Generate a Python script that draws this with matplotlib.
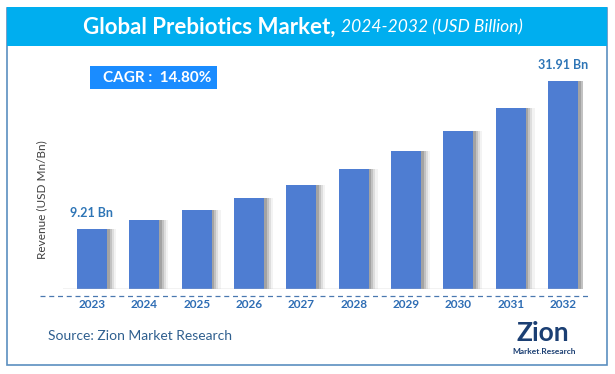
import matplotlib
matplotlib.use("Agg")
import matplotlib.pyplot as plt
from matplotlib.patches import Rectangle

years = ["2023", "2024", "2025", "2026", "2027", "2028", "2029", "2030", "2031", "2032"]
revenue = [9.21, 10.57, 12.14, 13.94, 16.00, 18.37, 21.09, 24.21, 27.80, 31.91]
first_label = "9.21 Bn"
last_label = "31.91 Bn"
cagr_text = "CAGR :  14.80%"

W, H = 615, 374
plt.rcParams["font.family"] = ["Lato", "DejaVu Sans"]

fig = plt.figure(figsize=(W / 100, H / 100), dpi=100)
fig.patch.set_facecolor("white")


def fx(px):
    return px / W


def fy(py):
    return 1 - py / H


# outer frame and title band
fig.patches.append(Rectangle((fx(7), fy(365)), fx(600), (365 - 8) / H, transform=fig.transFigure,
                             fill=False, edgecolor="#5b8fc0", lw=1.2))
fig.patches.append(Rectangle((fx(7), fy(46)), fx(600), (46 - 7) / H, transform=fig.transFigure,
                             facecolor="#00aeef", edgecolor="none"))
fig.text(fx(341), fy(27), "Global Prebiotics Market, ", color="white", fontsize=16,
         fontweight="bold", ha="right", va="center")
fig.text(fx(341), fy(27), "2024-2032 (USD Billion)", color="white", fontsize=12.5,
         style="italic", ha="left", va="center")

# main axes
x0, x1, ytop, ybase = 63, 583, 60, 289
ax = fig.add_axes([fx(x0), fy(ybase), fx(x1 - x0), (ybase - ytop) / H])
step = (563 - 92) / 9
ax.set_xlim(-(92 - x0) / step, 9 + (x1 - 563) / step)
ax.set_ylim(0, (ybase - ytop) / 6.52)
ax.axis("off")

xs = list(range(len(years)))
# soft shadow to the right of bars
for k, a in enumerate([0.28, 0.2, 0.13, 0.07]):
    ax.bar([x + 0.05 + 0.04 * k for x in xs], revenue, width=0.573, color="#555555",
           alpha=a, zorder=1, linewidth=0)
ax.bar(xs, revenue, width=0.573, color="#4e7dd2", zorder=3, linewidth=0)
ax.axhline(0, color="#bdbdbd", lw=1, zorder=4)

ax.annotate(first_label, (xs[0], revenue[0]), xytext=(0, 7), textcoords="offset points",
            ha="center", va="bottom", color="#2e75b6", fontsize=9, fontweight="bold")
ax.annotate(last_label, (xs[-1], revenue[-1]), xytext=(0, 7), textcoords="offset points",
            ha="center", va="bottom", color="#2e75b6", fontsize=9, fontweight="bold")

# dashed separator line and year labels
fig.add_artist(plt.Line2D([fx(40), fx(590)], [fy(296), fy(296)], color="#4a78b0",
                          lw=0.9, ls=(0, (4, 3))))
for i, y in enumerate(years):
    px = 92 + i * step
    fig.text(fx(px), fy(305), y, ha="center", va="center", color="#2e6db4",
             fontsize=8.5, fontweight="bold")

# CAGR box
fig.patches.append(Rectangle((fx(90), fy(89)), fx(127), 23 / H, transform=fig.transFigure,
                             facecolor="#1a8cff", edgecolor="none"))
fig.text(fx(157), fy(77.5), cagr_text, ha="center", va="center", color="white",
         fontsize=11, fontweight="bold")

fig.text(fx(42), fy(200), "Revenue (USD Mn/Bn)", rotation=90, ha="center", va="center",
         color="#404040", fontsize=8.5)

fig.text(fx(48), fy(336), "Source: Zion Market Research", ha="left", va="center",
         color="#2f5f8f", fontsize=10)

# logo
fig.text(fx(543), fy(333), "Zion", ha="center", va="center", color="#1b3f73",
         fontsize=19, fontweight="bold")
fig.text(fx(544), fy(351), "Market.Research", ha="center", va="center", color="#1b3f73",
         fontsize=6, fontweight="bold")

fig.savefig("out.png", dpi=100, facecolor="white")
